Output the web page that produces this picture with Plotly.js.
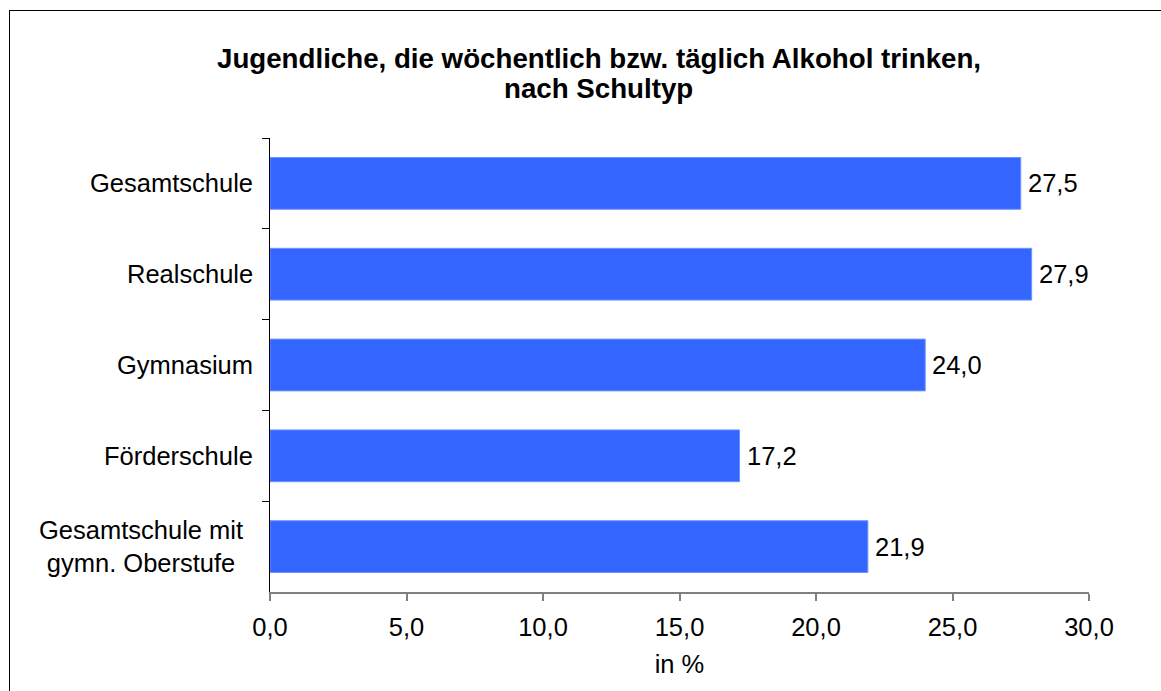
<!DOCTYPE html>
<html><head><meta charset="utf-8">
<script src="https://cdn.plot.ly/plotly-3.0.1.min.js"></script>
<style>
html,body{margin:0;padding:0;background:#fff;overflow:hidden;}
#frame{position:absolute;left:9px;top:10px;width:1200px;height:750px;border-left:1.5px solid #000;border-top:1.5px solid #000;}
#chart{position:absolute;left:0;top:0;width:1161px;height:691px;}
</style></head>
<body>
<div id="frame"></div>
<div id="chart"></div>
<script>
var titleLines = ["Jugendliche, die wöchentlich bzw. täglich Alkohol trinken,", "nach Schultyp"];
var categories = ["Gesamtschule", "Realschule", "Gymnasium", "Förderschule", "Gesamtschule mit<br>gymn. Oberstufe"];
var values = [27.5, 27.9, 24.0, 17.2, 21.9];
var tickValues = [0, 5, 10, 15, 20, 25, 30];
var tickLabels = ["0,0", "5,0", "10,0", "15,0", "20,0", "25,0", "30,0"];
var xTitle = "in %";

var FONT = "Liberation Sans, Arial, sans-serif";
var FS = 25.5;

var trace = {
  type: "bar",
  orientation: "h",
  y: categories,
  x: values,
  marker: {color: "#3366ff", line: {color: "#6f93ff", width: 1}},
  hoverinfo: "none"
};

var annotations = [];
values.forEach(function(v, i){
  annotations.push({
    x: v, y: categories[i], xref: "x", yref: "y",
    text: v.toFixed(1).replace(".", ","),
    showarrow: false, xanchor: "left", yanchor: "middle", xshift: 5,
    font: {family: FONT, size: FS, color: "#000"}
  });
});
categories.forEach(function(c){
  var multi = c.indexOf("<br>") >= 0;
  annotations.push({
    x: 0, y: c, xref: "paper", yref: "y",
    text: c, align: "center",
    showarrow: false, xanchor: "right", yanchor: "middle",
    xshift: multi ? -25 : -15,
    font: {family: FONT, size: FS, color: "#000"}
  });
});
var titleY = [1.1762, 1.1101];
titleLines.forEach(function(t, i){
  annotations.push({
    x: 0.4017, y: titleY[i], xref: "paper", yref: "paper",
    text: "<b>" + t + "</b>",
    showarrow: false, xanchor: "center", yanchor: "middle",
    font: {family: FONT, size: 27.7, color: "#000"}
  });
});

var layout = {
  width: 1161, height: 691,
  margin: {l: 270, r: 72, t: 138, b: 99},
  paper_bgcolor: "rgba(0,0,0,0)",
  plot_bgcolor: "rgba(0,0,0,0)",
  font: {family: FONT, size: FS, color: "#000"},
  bargap: 0.43,
  showlegend: false,
  annotations: annotations,
  xaxis: {
    range: [0, 30],
    tickvals: tickValues,
    ticktext: tickLabels,
    showgrid: false, zeroline: false,
    showline: true, linecolor: "#808080", linewidth: 2,
    ticks: "outside", ticklen: 7, tickcolor: "#808080", tickwidth: 2,
    ticklabelstandoff: 4,
    tickfont: {family: FONT, size: FS},
    title: {text: xTitle, font: {family: FONT, size: FS}, standoff: 16},
    fixedrange: true
  },
  yaxis: {
    type: "category",
    autorange: "reversed",
    showgrid: false, zeroline: false,
    showline: true, linecolor: "#000", linewidth: 1.5,
    ticks: "outside", ticklen: 7, tickcolor: "#000", tickwidth: 1,
    tickson: "boundaries",
    showticklabels: false,
    fixedrange: true
  }
};

Plotly.newPlot("chart", [trace], layout, {staticPlot: true, displayModeBar: false});
</script>
</body></html>
